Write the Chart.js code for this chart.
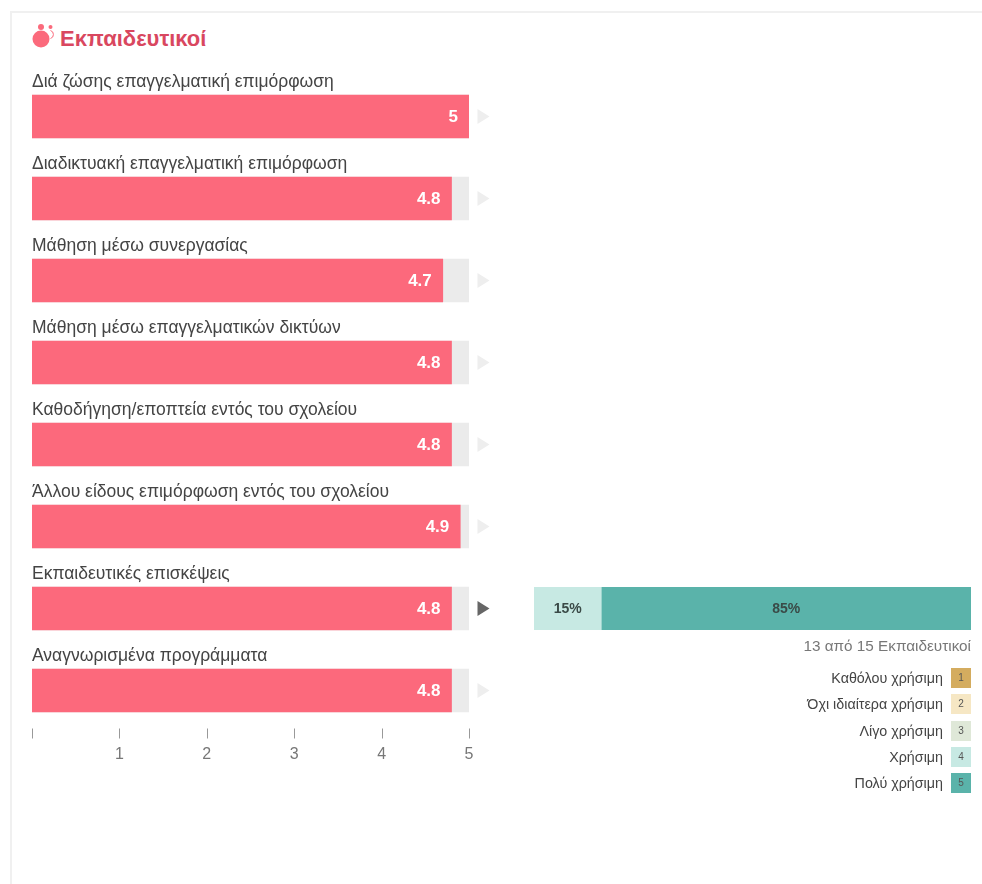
<!DOCTYPE html>
<html lang="el">
<head>
<meta charset="utf-8">
<title>Εκπαιδευτικοί</title>
<script src="https://cdn.jsdelivr.net/npm/chart.js@4/dist/chart.umd.min.js"></script>
<style>
  html, body { margin: 0; background: #fff; overflow: hidden; }
  body { width: 982px; height: 884px; position: relative; font-family: "Liberation Sans", Arial, sans-serif; }
  #frame { position: absolute; left: 10px; top: 11px; width: 972px; height: 873px; border-left: 2px solid #f0f0f0; border-top: 2px solid #f0f0f0; box-sizing: border-box; }
  #icon { position: absolute; left: 32px; top: 22px; }
  h1 { position: absolute; left: 60px; top: 26px; margin: 0; font-size: 22px; line-height: 26px; font-weight: bold; color: #d9475f; }
  canvas { position: absolute; }
  #mainChart { left: 0; top: 0; }
  #detailChart { left: 534px; top: 587px; }
  #count { position: absolute; right: 11px; top: 637px; font-size: 15.3px; line-height: 18px; color: #777; }
  .row { position: absolute; right: 11px; display: flex; align-items: center; height: 20px; font-size: 14.3px; color: #444; }
  .swatch { width: 20px; height: 20px; margin-left: 8px; text-align: center; font-size: 10px; line-height: 20px; color: #555; }
</style>
</head>
<body>
<div id="frame"></div>
<svg id="icon" width="24" height="28" viewBox="0 0 24 28">
  <circle cx="9" cy="17" r="8.5" fill="#fb6a7c"/>
  <circle cx="9" cy="5" r="3" fill="#fb6a7c"/>
  <circle cx="18.5" cy="5" r="2" fill="#fb6a7c"/>
  <path d="M18.5 8.5 a4.2 4.2 0 0 1 0 8" fill="none" stroke="#fb6a7c" stroke-width="1"/>
</svg>
<h1>Εκπαιδευτικοί</h1>
<canvas id="mainChart" width="982" height="884"></canvas>
<canvas id="detailChart" width="437" height="43"></canvas>
<div id="count">13 από 15 Εκπαιδευτικοί</div>
<div id="legend"></div>

<script>
//------------------------------Data-----------------
const categories = [
    'Διά ζώσης επαγγελματική επιμόρφωση',
    'Διαδικτυακή επαγγελματική επιμόρφωση',
    'Μάθηση μέσω συνεργασίας',
    'Μάθηση μέσω επαγγελματικών δικτύων',
    'Καθοδήγηση/εποπτεία εντός του σχολείου',
    'Άλλου είδους επιμόρφωση εντός του σχολείου',
    'Εκπαιδευτικές επισκέψεις',
    'Αναγνωρισμένα προγράμματα'
];
const averages = [5, 4.8, 4.7, 4.8, 4.8, 4.9, 4.8, 4.8];
const trackValues = [5, 5, 5, 5, 5, 5, 5, 5];
const selectedIndex = 6;

const ratingLabels = ['Καθόλου χρήσιμη', 'Όχι ιδιαίτερα χρήσιμη', 'Λίγο χρήσιμη', 'Χρήσιμη', 'Πολύ χρήσιμη'];
const ratingColors = ['#d4ac5f', '#f6e7c4', '#dfe8d8', '#c7e9e3', '#5ab3aa'];
const ratingShares = [null, null, null, 15.4, 84.6];

//------------------------------Chart 1, averages-----------------
const labelsAndArrows = {
    id: 'labelsAndArrows',
    afterDatasetsDraw(chart) {
        const ctx = chart.ctx, x = chart.scales.x, y = chart.scales.y;
        ctx.save();
        categories.forEach((name, i) => {
            const cy = y.getPixelForValue(i);
            ctx.font = '17.5px "Liberation Sans"';
            ctx.fillStyle = '#444';
            ctx.textAlign = 'left';
            ctx.textBaseline = 'alphabetic';
            ctx.fillText(name, x.left, cy - 30);

            ctx.font = 'bold 17px "Liberation Sans"';
            ctx.fillStyle = '#fff';
            ctx.textAlign = 'right';
            ctx.textBaseline = 'middle';
            ctx.fillText(averages[i], x.getPixelForValue(averages[i]) - 11, cy + 0.5);

            const ax = x.getPixelForValue(5) + 8.5;
            ctx.fillStyle = i === selectedIndex ? '#666' : '#eee';
            ctx.beginPath();
            ctx.moveTo(ax, cy - 7.5);
            ctx.lineTo(ax + 12, cy);
            ctx.lineTo(ax, cy + 7.5);
            ctx.closePath();
            ctx.fill();
        });
        // tick marks sit a little above the bottom of the plot
        ctx.strokeStyle = '#999';
        ctx.lineWidth = 1;
        x.ticks.forEach(t => {
            const px = Math.round(x.getPixelForValue(t.value)) + 0.5;
            ctx.beginPath();
            ctx.moveTo(px, y.bottom - 3);
            ctx.lineTo(px, y.bottom + 7);
            ctx.stroke();
        });
        ctx.restore();
    }
};

var chartMain = new Chart(document.getElementById('mainChart'), {
    type: 'bar',
    data: {
        labels: categories,
        datasets: [
            { data: averages, backgroundColor: '#fc697c', order: 1, barThickness: 43 },
            { data: trackValues, backgroundColor: '#ebebeb', order: 2, barThickness: 43 }
        ]
    },
    options: {
        indexAxis: 'y',
        responsive: false,
        animation: false,
        layout: { padding: { left: 32, right: 513, top: 75.5, bottom: 112.5 } },
        plugins: { legend: { display: false }, tooltip: { enabled: false } },
        datasets: { bar: { grouped: false } },
        scales: {
            x: {
                min: 0,
                max: 5,
                afterFit: s => { s.height = 40; },
                grid: { display: false },
                border: { display: false },
                ticks: {
                    stepSize: 1,
                    padding: 5,
                    maxRotation: 0,
                    color: '#777',
                    font: { family: '"Liberation Sans"', size: 16 },
                    callback: v => v === 0 ? '' : v
                }
            },
            y: { display: false }
        }
    },
    plugins: [labelsAndArrows]
});

//------------------------------Chart 2, selected row breakdown-----------------
const shareLabels = {
    id: 'shareLabels',
    afterDatasetsDraw(chart) {
        const ctx = chart.ctx;
        ctx.save();
        ctx.font = 'bold 14px "Liberation Sans"';
        ctx.fillStyle = '#3a4a47';
        ctx.textAlign = 'center';
        ctx.textBaseline = 'middle';
        chart.data.datasets.forEach((ds, i) => {
            if (!ds.data[0]) return;
            const bar = chart.getDatasetMeta(i).data[0];
            ctx.fillText(Math.round(ds.data[0]) + '%', (bar.base + bar.x) / 2, bar.y + 0.5);
        });
        ctx.restore();
    }
};

var chartDetail = new Chart(document.getElementById('detailChart'), {
    type: 'bar',
    data: {
        labels: [categories[selectedIndex]],
        datasets: ratingLabels.map((name, i) => ({
            label: name,
            data: [ratingShares[i]],
            backgroundColor: ratingColors[i]
        }))
    },
    options: {
        indexAxis: 'y',
        responsive: false,
        animation: false,
        barPercentage: 1,
        categoryPercentage: 1,
        plugins: { legend: { display: false }, tooltip: { enabled: false } },
        scales: {
            x: { stacked: true, display: false, min: 0, max: 100 },
            y: { stacked: true, display: false }
        }
    },
    plugins: [shareLabels]
});

//------------------------------Legend-----------------
const legendBox = document.getElementById('legend');
ratingLabels.forEach((name, i) => {
    const row = document.createElement('div');
    row.className = 'row';
    row.style.top = (668 + i * 26.3) + 'px';
    row.innerHTML = '<span>' + name + '</span><span class="swatch" style="background:' + ratingColors[i] + '">' + (i + 1) + '</span>';
    legendBox.appendChild(row);
});
</script>
</body>
</html>
